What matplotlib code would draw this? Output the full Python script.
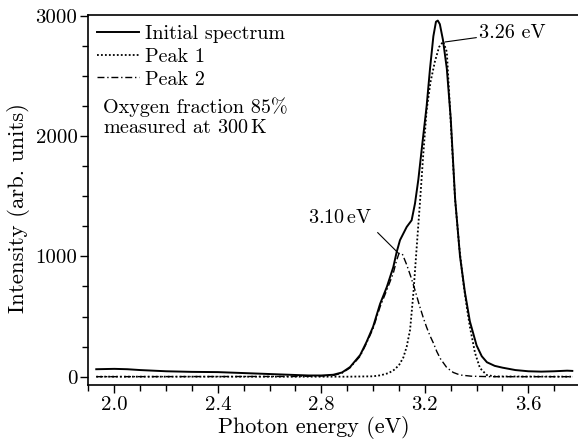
import matplotlib
matplotlib.use("Agg")
import matplotlib.pyplot as plt
from matplotlib.ticker import MultipleLocator, FixedLocator

plt.rcParams['font.family'] = 'serif'
plt.rcParams['font.serif'] = ['cmr10', 'DejaVu Serif']
plt.rcParams['mathtext.fontset'] = 'cm'
plt.rcParams['axes.formatter.use_mathtext'] = True

# ---- data ----
spec_x = [1.93, 2.0, 2.05, 2.1, 2.2, 2.3, 2.4, 2.5, 2.6, 2.7, 2.75, 2.8, 2.846, 2.88,
          2.911, 2.95, 2.975, 3.0, 3.027, 3.053, 3.078, 3.091, 3.104, 3.13, 3.149,
          3.162, 3.175, 3.19, 3.207, 3.22, 3.233, 3.243, 3.25, 3.258, 3.27, 3.285,
          3.30, 3.317, 3.336, 3.355, 3.374, 3.40, 3.42, 3.44, 3.47, 3.50, 3.55, 3.60,
          3.65, 3.70, 3.75, 3.77]
spec_y = [62, 65, 62, 55, 45, 40, 38, 30, 22, 14, 10, 10, 16, 35,
          80, 180, 290, 415, 605, 745, 910, 1035, 1135, 1245, 1300,
          1440, 1640, 1930, 2250, 2560, 2830, 2950, 2960, 2930, 2800, 2560,
          2150, 1480, 1000, 700, 460, 260, 170, 120, 90, 75, 55, 45,
          42, 45, 50, 48]

p1_x = [1.93, 2.9, 3.0, 3.03, 3.06, 3.08, 3.10, 3.117, 3.13, 3.143, 3.156, 3.168,
        3.181, 3.194, 3.207, 3.222, 3.239, 3.255, 3.271, 3.285, 3.30, 3.317, 3.333,
        3.349, 3.362, 3.374, 3.394, 3.413, 3.439, 3.47, 3.77]
p1_y = [0, 0, 3, 12, 30, 55, 95, 160, 250, 390, 700, 1060,
        1444, 1850, 2217, 2450, 2620, 2740, 2785, 2700, 2120, 1469, 1080,
        776, 580, 416, 197, 72, 14, 2, 0]

p2_x = [1.93, 2.7, 2.8, 2.85, 2.88, 2.91, 2.95, 2.975, 3.0, 3.027, 3.053, 3.078,
        3.09, 3.10, 3.113, 3.13, 3.146, 3.162, 3.178, 3.194, 3.207, 3.22, 3.233,
        3.246, 3.26, 3.285, 3.31, 3.336, 3.38, 3.45, 3.77]
p2_y = [0, 2, 6, 12, 30, 72, 170, 280, 400, 580, 720, 860,
        960, 1025, 1020, 930, 830, 720, 600, 490, 410, 340, 280,
        210, 150, 75, 35, 14, 4, 0, 0]

x_ticks = [2.0, 2.4, 2.8, 3.2, 3.6]
x_tick_labels = ["2.0", "2.4", "2.8", "3.2", "3.6"]
y_ticks = [0, 1000, 2000, 3000]
y_tick_labels = ["0", "1000", "2000", "3000"]

fig = plt.figure(figsize=(5.78, 4.42), dpi=100)
ax = fig.add_axes([0.1531, 0.129, 0.8469, 0.837])

ax.plot(spec_x, spec_y, color='black', lw=1.4, label='Initial spectrum', zorder=3)
ax.plot(p1_x, p1_y, color='black', lw=1.3, linestyle=(0, (1, 1.2)), label='Peak 1', zorder=4)
ax.plot(p2_x, p2_y, color='black', lw=1.0, linestyle=(0, (5, 2, 1, 2)), label='Peak 2', zorder=4)

ax.set_xlim(1.9, 3.792)
ax.set_ylim(-69, 3006)

ax.xaxis.set_major_locator(FixedLocator(x_ticks))
ax.set_xticklabels(x_tick_labels)
ax.xaxis.set_minor_locator(MultipleLocator(0.1))
ax.yaxis.set_major_locator(FixedLocator(y_ticks))
ax.set_yticklabels(y_tick_labels)
ax.yaxis.set_minor_locator(MultipleLocator(250))
ax.tick_params(which='both', direction='out', width=1.0, labelsize=15, top=False, right=False)
ax.tick_params(which='major', length=6, pad=2)
ax.tick_params(which='minor', length=4)

ax.spines['right'].set_visible(False)
for s in ['left', 'bottom', 'top']:
    ax.spines[s].set_linewidth(1.2)

ax.set_xlabel('Photon energy (eV)', fontsize=15.9)
ax.set_ylabel('Intensity (arb. units)', fontsize=16.4)
ax.xaxis.set_label_coords(0.461, -0.116)
ax.yaxis.set_label_coords(-0.142, 0.478)
ax.xaxis.label.set_va('center')
ax.yaxis.label.set_va('center')

leg = ax.legend(loc='upper left', bbox_to_anchor=(0.017, 0.972), frameon=False,
                fontsize=14.5, handlelength=2.1, handletextpad=0.3, labelspacing=0.22,
                borderpad=0, borderaxespad=0)

ax.text(0.0297, 0.751, 'Oxygen fraction 85%', transform=ax.transAxes, fontsize=14.5,
        ha='left', va='center')
ax.text(0.0297, 0.695, r'measured at 300$\,$K', transform=ax.transAxes, fontsize=14.5,
        ha='left', va='center')

ax.annotate('3.26 eV', xy=(3.278, 2782), xytext=(3.41, 2860), fontsize=14.5,
            ha='left', va='center',
            arrowprops=dict(arrowstyle='-', color='black', lw=0.8, shrinkA=0, shrinkB=0))
ax.annotate(r'3.10$\,$eV', xy=(3.098, 1026), xytext=(2.748, 1318), fontsize=14.5,
            ha='left', va='center')
ax.plot([3.018, 3.098], [1197, 1026], color='black', lw=0.8)

fig.savefig('out.png', dpi=100)
